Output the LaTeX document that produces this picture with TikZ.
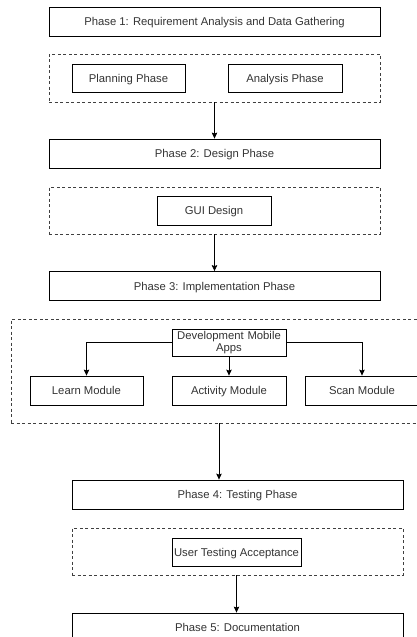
\documentclass[tikz,border=0pt]{standalone}
\usepackage{fontspec}
\setmainfont{Liberation Sans}
\usetikzlibrary{arrows.meta,positioning}
\tikzset{phasebox/.style={rectangle,draw,line width=0.8pt,inner sep=2pt,text height=10.5pt,text depth=2.5pt,minimum width=331pt,minimum height=29pt},
         taskbox/.style={rectangle,draw,line width=0.8pt,inner sep=1pt,text height=10.5pt,text depth=2.5pt,minimum width=114pt,minimum height=29pt},
         groupbox/.style={rectangle,draw=black!75,line width=0.7pt,dash pattern=on 3pt off 2.5pt,inner sep=0pt,minimum width=331pt},
         flow/.style={-{Stealth[length=6pt,width=5.5pt,inset=1pt]},line width=0.8pt}}

\begin{document}
\begin{tikzpicture}[x=1pt,y=-1pt,font=\fontsize{11.3pt}{12pt}\selectfont,text=black!80]
  \useasboundingbox (0,0) rectangle (417,637);

  \node (phase1)   [phasebox] at (214.5,21.5)  {Phase 1: Requirement Analysis and Data Gathering};
  \node (groupa)   [groupbox,minimum height=48pt] at (214.5,78) {};
  \node (planning) [taskbox,minimum width=113pt,minimum height=28pt] at (128.5,78) {Planning Phase};
  \node (analysis) [taskbox,minimum height=28pt] at (285,78) {Analysis Phase};

  \node (phase2)   [phasebox] at (214.5,153.5) {Phase 2: Design Phase};
  \node (groupb)   [groupbox,minimum height=47pt] at (214.5,210.5) {};
  \node (gui)      [taskbox] at (214,210.5) {GUI Design};

  \node (phase3)   [phasebox] at (214.5,286)   {Phase 3: Implementation Phase};
  \node (groupc)   [groupbox,minimum width=412pt,minimum height=104pt] at (217,371) {};
  \node (devapps)  [taskbox,text height=,text depth=,minimum height=27pt,align=center,text width=110pt] at (229,342.5) {Development Mobile\\Apps};
  \node (learn)    [taskbox,minimum width=113pt] at (86.5,390.5) {Learn Module};
  \node (activity) [taskbox] at (229,390.5)  {Activity Module};
  \node (scan)     [taskbox] at (362,390.5)  {Scan Module};

  \node (phase4)   [phasebox] at (237.5,494.5) {Phase 4: Testing Phase};
  \node (groupd)   [groupbox,minimum height=47pt] at (237.5,551.5) {};
  \node (uat)      [taskbox,minimum width=129pt,minimum height=28pt] at (236.5,552) {User Testing Acceptance};
  \node (phase5)   [phasebox] at (237.5,627.5) {Phase 5: Documentation};

  \coordinate (drop) at (219,423);

  \path (groupa)  edge[flow] (phase2)  % phase to phase
        (groupb)  edge[flow] (phase3)
        (devapps) edge[flow] (activity)
        (groupd.south -| uat) edge[flow] (phase5.north -| uat);
  \draw[flow] (devapps.west) -| (learn.north);
  \draw[flow] (devapps.east) -| (scan.north);
  \draw[flow] (groupc.south -| drop) -- (phase4.north -| drop);
\end{tikzpicture}
\end{document}
